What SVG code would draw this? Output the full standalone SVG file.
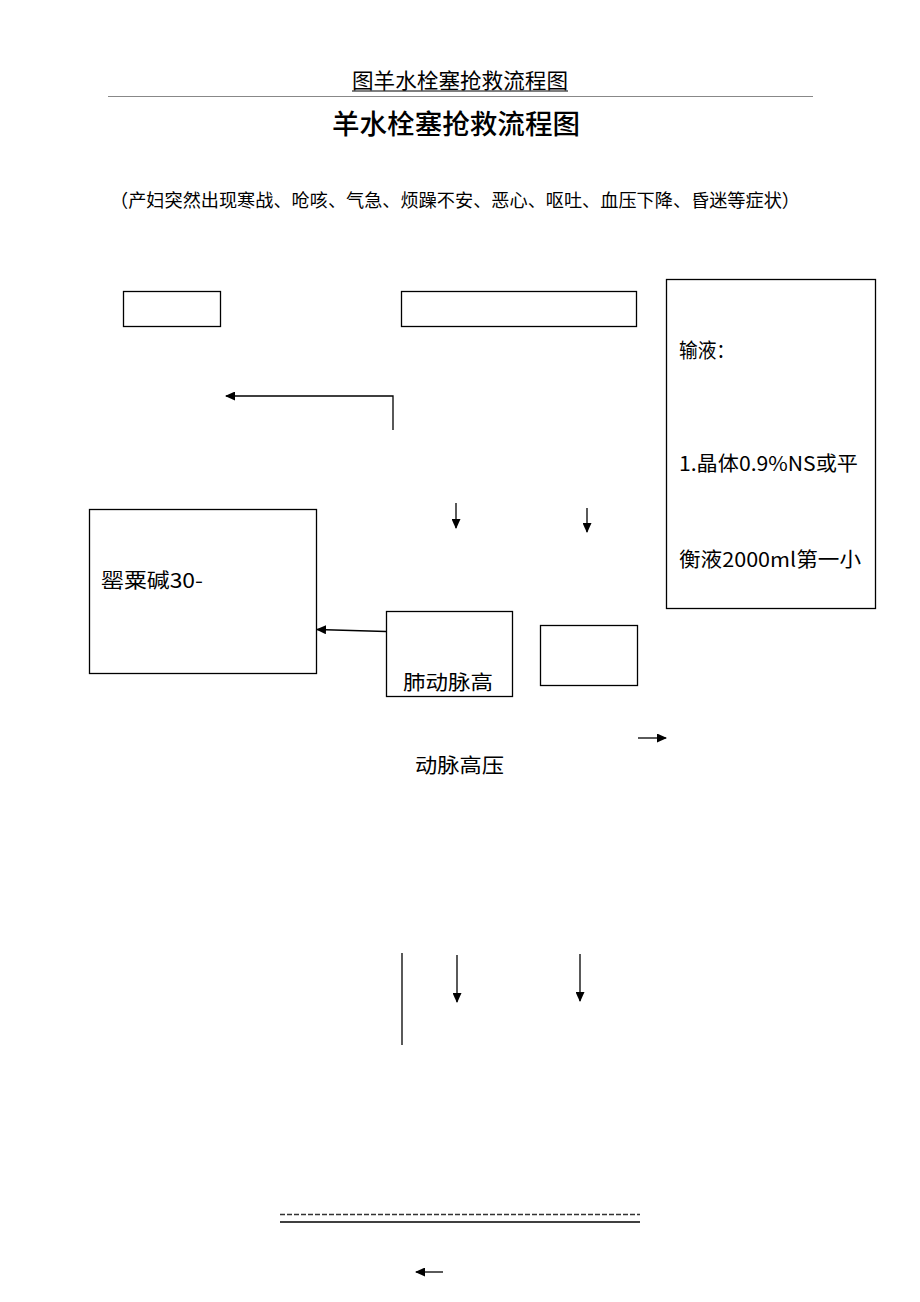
<svg xmlns="http://www.w3.org/2000/svg" width="920" height="1302" viewBox="0 0 920 1302">
<style>
.box{fill:#fff;stroke:#000;stroke-width:1.3}
.ln{stroke:#000;stroke-width:1.3;fill:none}
.serif{font-family:"Liberation Serif","Noto Sans CJK SC",serif;fill:#000}
.sans{font-family:"Liberation Sans","Noto Sans CJK SC",sans-serif;fill:#000}
.t{font-family:"Noto Sans CJK SC",sans-serif;font-size:20px;fill:#000}
</style>
<defs>
<marker id="ah" markerWidth="10" markerHeight="9" refX="9" refY="4.5" orient="auto" markerUnits="userSpaceOnUse">
<path d="M0,0 L10,4.5 L0,9 Z" fill="#000"/>
</marker>
</defs>
<rect width="920" height="1302" fill="#fff"/>
<g id="header">
<text class="serif" x="460" y="88" font-size="21" text-anchor="middle" textLength="216" lengthAdjust="spacingAndGlyphs">图羊水栓塞抢救流程图</text>
<line x1="352" y1="91" x2="568" y2="91" stroke="#000" stroke-width="1"/>
<line x1="108" y1="96.5" x2="813" y2="96.5" stroke="#888" stroke-width="1"/>
</g>
<g id="title">
<text class="sans" x="456" y="134" font-size="27" font-weight="500" text-anchor="middle" textLength="248" lengthAdjust="spacingAndGlyphs">羊水栓塞抢救流程图</text>
</g>
<g id="symptoms">
<text class="sans" x="110" y="207" font-size="18" textLength="690" lengthAdjust="spacingAndGlyphs">（产妇突然出现寒战、呛咳、气急、烦躁不安、恶心、呕吐、血压下降、昏迷等症状）</text>
</g>
<g id="box1"><rect class="box" x="123.5" y="291.5" width="97" height="35"/></g>
<g id="box2"><rect class="box" x="401.5" y="291.5" width="235" height="35"/></g>
<g id="box3">
<rect class="box" x="666.5" y="279.5" width="209" height="329"/>
<text class="t" x="679" y="358" textLength="56" lengthAdjust="spacingAndGlyphs">输液：</text>
<text class="t" x="679" y="471" textLength="179" lengthAdjust="spacingAndGlyphs">1.晶体0.9%NS或平</text>
<text class="t" x="679" y="567" textLength="182" lengthAdjust="spacingAndGlyphs">衡液2000ml第一小</text>
</g>
<g id="box4">
<rect class="box" x="89.5" y="509.5" width="227" height="164"/>
<text class="t" x="101" y="588" textLength="102" lengthAdjust="spacingAndGlyphs">罂粟碱30-</text>
</g>
<g id="box5">
<rect class="box" x="386.5" y="611.5" width="126" height="85"/>
<text class="t" x="403" y="690" textLength="90" lengthAdjust="spacingAndGlyphs">肺动脉高</text>
</g>
<g id="box6"><rect class="box" x="540.5" y="625.5" width="97" height="60"/></g>
<g id="label-arterial">
<text class="t" x="415" y="773" textLength="89" lengthAdjust="spacingAndGlyphs">动脉高压</text>
</g>
<g id="connectors">
<polyline class="ln" points="393,430 393,396 226,396" marker-end="url(#ah)"/>
<line class="ln" x1="456" y1="503" x2="456" y2="528" marker-end="url(#ah)"/>
<line class="ln" x1="587" y1="508" x2="587" y2="532" marker-end="url(#ah)"/>
<line class="ln" x1="386" y1="631.5" x2="317" y2="629.5" marker-end="url(#ah)"/>
<line class="ln" x1="638" y1="738" x2="666" y2="738" marker-end="url(#ah)"/>
<line class="ln" x1="402" y1="953" x2="402" y2="1045"/>
<line class="ln" x1="457" y1="955" x2="457" y2="1002" marker-end="url(#ah)"/>
<line class="ln" x1="580" y1="954" x2="580" y2="1001" marker-end="url(#ah)"/>
<line x1="280" y1="1214.5" x2="640" y2="1214.5" stroke="#333" stroke-width="1.3" stroke-dasharray="5,2"/>
<line x1="280" y1="1222" x2="640" y2="1222" stroke="#000" stroke-width="1.5"/>
<line class="ln" x1="443" y1="1272" x2="416" y2="1272" marker-end="url(#ah)"/>
</g>
</svg>
